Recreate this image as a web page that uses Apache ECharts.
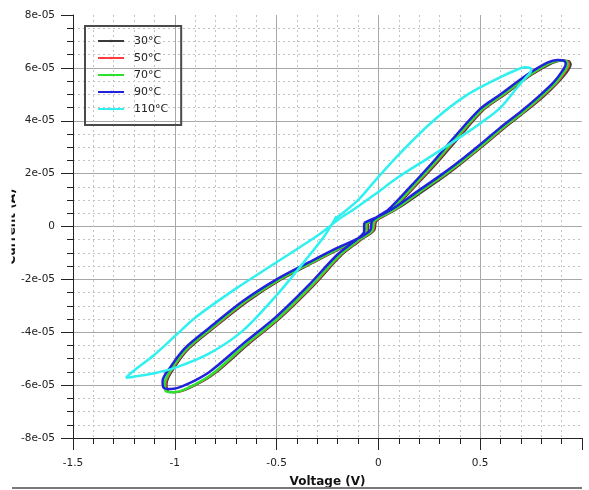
<!DOCTYPE html>
<html>
<head>
<meta charset="utf-8">
<script src="https://cdn.jsdelivr.net/npm/echarts@6/dist/echarts.min.js"></script>
<style>
  html, body { margin: 0; padding: 0; background: #fff; overflow: hidden; }
  #chart { width: 589px; height: 490px; }
</style>
</head>
<body>
<div id="chart"></div>
<script>
// I–V sweeps at several temperatures. Voltage in V, current in units of 1e-05 A.
const seriesNames = ['30°C', '50°C', '70°C', '90°C', '110°C'];
const seriesColors = ['#3a3a3a', '#ff3b3b', '#2ee02e', '#2222dd', '#30f0f0'];

const volt30 = [-0.05, 0.02, 0.10, 0.21, 0.34, 0.44, 0.52, 0.62, 0.72, 0.815, 0.88, 0.925, 0.945, 0.935, 0.905, 0.855, 0.75, 0.62, 0.52, 0.39, 0.29, 0.17, 0.07, -0.01, -0.02, -0.08, -0.18, -0.32, -0.48, -0.645, -0.81, -0.93, -1.0, -1.04, -1.035, -1.0, -0.93, -0.81, -0.645, -0.48, -0.32, -0.18, -0.08, -0.05, -0.05];
const curr30 = [0.12, 0.36, 0.70, 1.28, 1.98, 2.58, 3.08, 3.73, 4.33, 4.94, 5.43, 5.83, 6.13, 6.26, 6.28, 6.18, 5.72, 4.98, 4.43, 3.31, 2.42, 1.43, 0.63, 0.20, -0.15, -0.47, -0.82, -1.37, -2.02, -2.85, -3.85, -4.62, -5.32, -5.95, -6.22, -6.27, -6.12, -5.60, -4.50, -3.45, -2.25, -1.08, -0.47, -0.20, 0.12];

const volt50 = [-0.055, 0.015, 0.095, 0.20, 0.332, 0.435, 0.515, 0.615, 0.715, 0.808, 0.875, 0.917, 0.937, 0.927, 0.895, 0.845, 0.745, 0.615, 0.515, 0.382, 0.283, 0.165, 0.065, -0.015, -0.025, -0.085, -0.185, -0.325, -0.485, -0.652, -0.815, -0.935, -1.005, -1.045, -1.04, -1.005, -0.935, -0.815, -0.652, -0.485, -0.325, -0.185, -0.085, -0.055, -0.055];
const curr50 = [0.12, 0.36, 0.70, 1.28, 1.98, 2.58, 3.08, 3.73, 4.33, 4.94, 5.43, 5.83, 6.13, 6.26, 6.28, 6.18, 5.72, 4.98, 4.43, 3.31, 2.42, 1.43, 0.63, 0.20, -0.15, -0.47, -0.82, -1.37, -2.02, -2.85, -3.85, -4.62, -5.32, -5.95, -6.22, -6.27, -6.12, -5.60, -4.50, -3.45, -2.25, -1.08, -0.47, -0.20, 0.12];

const volt70 = [-0.06, 0.01, 0.09, 0.196, 0.327, 0.43, 0.51, 0.61, 0.71, 0.803, 0.87, 0.91, 0.93, 0.92, 0.89, 0.84, 0.74, 0.61, 0.51, 0.377, 0.278, 0.16, 0.06, -0.02, -0.03, -0.09, -0.19, -0.33, -0.49, -0.657, -0.82, -0.94, -1.01, -1.05, -1.045, -1.01, -0.94, -0.82, -0.657, -0.49, -0.33, -0.19, -0.09, -0.06, -0.06];
const curr70 = [0.12, 0.36, 0.70, 1.28, 1.98, 2.58, 3.08, 3.73, 4.33, 4.94, 5.43, 5.83, 6.13, 6.26, 6.28, 6.18, 5.72, 4.98, 4.43, 3.31, 2.42, 1.43, 0.63, 0.20, -0.15, -0.47, -0.82, -1.37, -2.02, -2.85, -3.85, -4.62, -5.32, -5.95, -6.22, -6.27, -6.12, -5.60, -4.50, -3.45, -2.25, -1.08, -0.47, -0.20, 0.12];

const volt90 = [-0.07, 0.00, 0.08, 0.186, 0.317, 0.42, 0.50, 0.60, 0.70, 0.793, 0.86, 0.90, 0.92, 0.91, 0.88, 0.83, 0.73, 0.60, 0.50, 0.367, 0.268, 0.15, 0.05, -0.03, -0.04, -0.10, -0.20, -0.34, -0.50, -0.667, -0.83, -0.95, -1.02, -1.06, -1.055, -1.02, -0.95, -0.83, -0.667, -0.50, -0.34, -0.20, -0.10, -0.07, -0.07];
const curr90 = [0.14, 0.38, 0.72, 1.30, 2.00, 2.60, 3.10, 3.75, 4.35, 4.96, 5.45, 5.85, 6.15, 6.28, 6.30, 6.20, 5.74, 5.00, 4.45, 3.33, 2.44, 1.45, 0.65, 0.22, -0.14, -0.45, -0.80, -1.35, -2.00, -2.83, -3.83, -4.60, -5.30, -5.85, -6.10, -6.15, -6.00, -5.50, -4.45, -3.40, -2.20, -1.05, -0.45, -0.18, 0.14];

const volt110 = [-0.21, -0.10, -0.02, 0.10, 0.27, 0.43, 0.60, 0.68, 0.72, 0.745, 0.75, 0.72, 0.68, 0.60, 0.50, 0.43, 0.27, 0.10, -0.02, -0.12, -0.20, -0.24, -0.30, -0.50, -0.70, -0.90, -1.00, -1.10, -1.20, -1.24, -1.20, -1.10, -1.00, -0.83, -0.667, -0.50, -0.34, -0.26, -0.205, -0.21];
const curr110 = [0.30, 1.00, 1.70, 2.72, 4.00, 4.95, 5.65, 5.93, 6.02, 6.00, 5.90, 5.60, 5.24, 4.50, 3.90, 3.53, 2.71, 1.88, 1.20, 0.65, 0.25, 0.00, -0.35, -1.35, -2.35, -3.45, -4.15, -4.85, -5.45, -5.72, -5.68, -5.55, -5.35, -4.80, -3.95, -2.60, -1.10, -0.30, 0.39, 0.30];

const xTicks = [-1.5, -1, -0.5, 0, 0.5, 1];
const yTicks = [-8, -6, -4, -2, 0, 2, 4, 6, 8];

const sweeps = [
  [volt30, curr30], [volt50, curr50], [volt70, curr70], [volt90, curr90], [volt110, curr110]
];
const lineWidths = [2, 2, 2.5, 2.5, 2.5];

const font = 'DejaVu Sans';

const chart = echarts.init(document.getElementById('chart'), null, { renderer: 'canvas' });

chart.setOption({
  animation: false,
  backgroundColor: '#fff',
  grid: { left: 73, right: 7, top: 15, bottom: 52, containLabel: false, outerBoundsMode: 'none' },
  legend: {
    orient: 'vertical',
    left: 85, top: 26,
    padding: [9.5, 13, 10.5, 12],
    itemWidth: 26, itemHeight: 3, itemGap: 6,
    borderColor: '#4a4a4a', borderWidth: 2,
    backgroundColor: 'transparent',
    textStyle: { fontFamily: font, fontSize: 11, color: '#222', padding: [0, 0, 0, 5] },
    data: seriesNames
  },
  xAxis: {
    type: 'value',
    min: xTicks[0], max: xTicks[xTicks.length - 1], interval: 0.5,
    name: 'Voltage (V)', nameLocation: 'middle', nameGap: 38, nameMoveOverlap: false,
    nameTextStyle: { fontFamily: font, fontWeight: 'bold', fontSize: 12, color: '#111' },
    axisLine: { onZero: false, lineStyle: { color: '#222', width: 1 } },
    axisTick: { length: 12, lineStyle: { color: '#222' } },
    minorTick: { show: true, splitNumber: 5, length: 6, lineStyle: { color: '#222' } },
    axisLabel: { fontFamily: font, fontSize: 10.5, color: '#222', margin: 20, showMaxLabel: false },
    splitLine: { show: true, showMinLine: false, showMaxLine: false, lineStyle: { color: '#a8a8a8', width: 1 } },
    minorSplitLine: { show: true, lineStyle: { color: '#c2c2c2', type: [2, 3], width: 1 } }
  },
  yAxis: {
    type: 'value',
    min: yTicks[0], max: yTicks[yTicks.length - 1], interval: 2,
    name: 'Current (A)', nameLocation: 'middle', nameGap: 55, nameMoveOverlap: false,
    nameTextStyle: { fontFamily: font, fontWeight: 'bold', fontSize: 12, color: '#111' },
    axisLine: { show: true, onZero: false, lineStyle: { color: '#222', width: 1 } },
    axisTick: { length: 12, lineStyle: { color: '#222' } },
    minorTick: { show: true, splitNumber: 4, length: 6, lineStyle: { color: '#222' } },
    axisLabel: {
      fontFamily: font, fontSize: 10.5, color: '#222', margin: 18,
      formatter: v => (v === 0 ? '0' : v + 'e-05')
    },
    splitLine: { show: true, showMinLine: false, showMaxLine: false, lineStyle: { color: '#a8a8a8', width: 1 } },
    minorSplitLine: { show: true, lineStyle: { color: '#c2c2c2', type: [2, 3], width: 1 } }
  },
  graphic: [
    // strip along the left border that hides part of the axis title
    { type: 'rect', z: 100, shape: { x: 0, y: 140, width: 11.5, height: 170 }, style: { fill: '#fff' } },
    // window frame line at the bottom
    { type: 'line', z: 100, shape: { x1: 12, y1: 488, x2: 582, y2: 488 }, style: { stroke: '#7a7a7a', lineWidth: 2 } }
  ],
  series: seriesNames.map((name, k) => ({
    name,
    type: 'line',
    symbol: 'none',
    smooth: 0.3,
    data: sweeps[k][0].map((v, j) => [v, sweeps[k][1][j]]),
    lineStyle: { color: seriesColors[k], width: lineWidths[k] },
    itemStyle: { color: seriesColors[k] }
  }))
});
</script>
</body>
</html>
